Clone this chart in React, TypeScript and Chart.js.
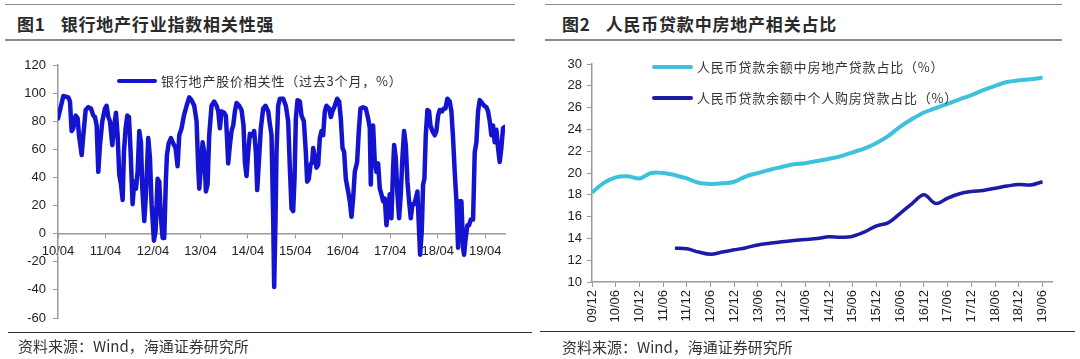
import React, { useEffect, useRef } from "react";
import { Chart, registerables } from "chart.js";

Chart.register(...registerables);

// ---------- Figure 1: bank vs real-estate correlation (months since 2010-04) ----------
const corrMonths = [
  0.0, 1.35, 2.61, 3.03, 3.45, 3.87, 4.46, 4.97, 5.31, 5.98, 6.4, 6.99, 7.66, 8.34, 8.93, 9.35, 9.77, 10.19, 10.61, 11.2,
  11.87, 12.29, 12.72, 13.14, 13.73, 14.23, 14.65, 15.07, 15.49, 15.92, 16.34, 16.67, 17.09, 17.52, 17.94, 18.36, 18.86,
  19.28, 19.71, 20.13, 20.55, 20.97, 21.31, 21.81, 22.23, 22.82, 23.24, 23.66, 24.25, 24.67, 25.18, 25.6, 26.02, 26.44,
  26.86, 27.28, 27.54, 27.96, 28.55, 29.14, 29.73, 30.23, 30.65, 31.24, 31.83, 32.51, 33.18, 33.77, 34.44, 35.03, 35.45,
  35.71, 36.13, 36.55, 36.97, 37.39, 37.81, 38.23, 38.82, 39.49, 40.08, 40.51, 40.93, 41.35, 42.02, 42.44, 42.78, 43.03,
  43.45, 43.87, 44.29, 44.72, 45.14, 45.81, 46.4, 46.9, 47.24, 47.66, 48.08, 48.5, 49.09, 49.6, 50.02, 50.36, 50.78,
  51.28, 51.87, 52.46, 53.14, 53.56, 53.98, 54.4, 54.65, 54.99, 55.24, 55.66, 56.08, 56.93, 57.6, 58.19, 58.61, 59.03,
  59.45, 59.79, 60.13, 60.55, 61.14, 61.56, 62.15, 62.65, 62.99, 63.41, 63.83, 64.25, 64.5, 64.93, 65.35, 65.77, 66.19,
  66.61, 67.03, 67.45, 67.87, 68.55, 68.97, 69.39, 69.98, 70.57, 71.07, 71.49, 71.92, 72.34, 72.76, 73.35, 73.77, 74.19,
  74.61, 75.03, 75.62, 76.04, 76.46, 77.14, 77.81, 78.4, 78.82, 79.07, 79.33, 79.66, 80.08, 80.51, 80.93, 81.35, 81.77,
  82.19, 82.61, 83.03, 83.45, 83.87, 84.29, 84.72, 84.97, 85.39, 85.81, 86.23, 86.65, 87.07, 87.49, 87.92, 88.34, 88.76,
  89.18, 89.6, 90.02, 90.44, 90.86, 91.28, 91.54, 91.96, 92.29, 92.63, 92.97, 93.39, 93.81, 94.15, 94.65, 95.24, 95.66,
  96.08, 96.51, 97.09, 97.52, 97.94, 98.44, 99.03, 99.45, 99.87, 100.29, 100.72, 101.14, 101.56, 101.98, 102.4, 102.65,
  103.07, 103.49, 103.92, 104.34, 104.93, 105.35, 105.77, 106.19, 106.61, 107.2, 107.71, 108.29, 108.72, 109.14, 109.56,
  109.98, 110.4, 110.82, 111.24, 111.66, 112.08, 112.5, 112.93,
];
const corrValues = [
  82, 98, 97, 94, 73, 75, 84, 82, 70, 56, 70, 88, 90, 89, 84, 83, 77, 44, 63, 80,
  89, 91, 83, 80, 63, 77, 86, 70, 42, 35, 24, 58, 75, 84, 83, 58, 21,
  37, 32, 44, 73, 65, 32, 9, 28, 68, 54, 21, -5, 2, 39, 37, 11, -3,
  -3, 39, 56, 64, 68, 64, 61, 48, 70, 75, 84, 91, 97, 95, 91, 80, 47,
  32, 47, 65, 58, 30, 35, 70, 91, 94, 91, 87, 75, 87, 86, 84, 65, 50,
  63, 73, 77, 87, 93, 91, 88, 77, 51, 41, 58, 71, 70, 73, 58, 31, 51,
  75, 89, 91, 87, 78, 70, 11, -38, 11, 58, 91, 96, 96, 91, 80, 47, 18,
  16, 39, 82, 95, 94, 84, 80, 58, 37, 39, 49, 51, 61, 54, 47, 49, 68,
  73, 70, 87, 91, 89, 83, 87, 91, 96, 94, 82, 61, 58, 39, 30, 23, 12,
  25, 44, 51, 73, 89, 90, 89, 82, 75, 35, 70, 77, 51, 44, 50, 32, 28,
  23, 25, 6, 16, 28, 11, 47, 63, 54, 28, 11, 28, 54, 73, 63, 37, 23,
  11, 21, 21, 25, 30, 2, -15, 2, 35, 39, 70, 88, 87, 77, 73, 70, 73,
  84, 88, 87, 89, 89, 96, 94, 87, 68, 44, 23, -10, 23, 23, -10, -15,
  -3, 6, 6, 10, 10, 58, 65, 87, 95, 93, 91, 90, 87, 80, 70,
  77, 65, 74, 61, 51, 61, 75, 76,
];
const corrTickMonths = [0, 12, 24, 36, 48, 60, 72, 84, 96, 108];
const corrTickLabels = ["10/04", "11/04", "12/04", "13/04", "14/04", "15/04", "16/04", "17/04", "18/04", "19/04"];
const corrLegend = "银行地产股价相关性（过去3个月，%）";

// ---------- Figure 2: RMB loan shares (quarterly) ----------
const loanQuarters = [
  "09/12", "10/03", "10/06", "10/09", "10/12", "11/03", "11/06", "11/09", "11/12", "12/03",
  "12/06", "12/09", "12/12", "13/03", "13/06", "13/09", "13/12", "14/03", "14/06", "14/09",
  "14/12", "15/03", "15/06", "15/09", "15/12", "16/03", "16/06", "16/09", "16/12", "17/03",
  "17/06", "17/09", "17/12", "18/03", "18/06", "18/09", "18/12", "19/03", "19/06",
];
const realEstateShare = [
  18.2, 19.1, 19.6, 19.7, 19.5, 20.0, 20.0, 19.8, 19.5, 19.1,
  19.0, 19.05, 19.2, 19.7, 20.0, 20.3, 20.55, 20.8, 20.9, 21.1,
  21.3, 21.55, 21.9, 22.25, 22.75, 23.4, 24.25, 24.95, 25.55, 25.95,
  26.35, 26.75, 27.15, 27.6, 28.0, 28.35, 28.5, 28.6, 28.75,
];
const mortgageShare = [
  null, null, null, null, null, null, null, 13.1, 13.05, 12.75,
  12.55, 12.75, 12.95, 13.15, 13.4, 13.55, 13.7, 13.8, 13.9, 14.0,
  14.15, 14.1, 14.2, 14.6, 15.15, 15.45, 16.3, 17.2, 18.0, 17.2,
  17.7, 18.1, 18.3, 18.4, 18.6, 18.8, 18.95, 18.9, 19.2,
];
const loanLegend1 = "人民币贷款余额中房地产贷款占比（%）";
const loanLegend2 = "人民币贷款余额中个人购房贷款占比（%）";

const title1Num = "图1";
const title1 = "银行地产行业指数相关性强";
const title2Num = "图2";
const title2 = "人民币贷款中房地产相关占比";
const sourceText = "资料来源：Wind，海通证券研究所";

const BLUE = "#1414d0";
const LIGHT_BLUE = "#3ec2db";
const DARK_BLUE = "#1b1ba6";
const AXIS = "#9a9a9a";
const TEXT = "#222";
const NUM_FONT = { family: "'Liberation Sans', Arial, sans-serif", size: 13 };
const CJK = "'Noto Sans CJK SC', sans-serif";

function CorrChart() {
  const ref = useRef<HTMLCanvasElement>(null);
  useEffect(() => {
    const chart = new Chart(ref.current!, {
      type: "line",
      data: {
        datasets: [
          {
            data: corrMonths.map((m, i) => ({ x: m, y: corrValues[i] })),
            borderColor: BLUE,
            borderWidth: 4.5,
            pointRadius: 0,
            tension: 0,
            borderJoinStyle: "round",
            borderCapStyle: "round",
          },
        ],
      },
      options: {
        responsive: false,
        animation: false,
        layout: { padding: { left: 0, right: 25, top: 20, bottom: 17 } },
        plugins: { legend: { display: false }, tooltip: { enabled: false } },
        scales: {
          x: {
            type: "linear",
            position: { y: 0 } as any,
            min: 0,
            max: 113,
            afterBuildTicks: (s: any) => {
              s.ticks = corrTickMonths.map((v) => ({ value: v }));
            },
            ticks: {
              autoSkip: false,
              maxRotation: 0,
              minRotation: 0,
              padding: 6,
              color: TEXT,
              font: NUM_FONT,
              callback: (v: any) => {
                const idx = corrTickMonths.indexOf(Number(v));
                return idx >= 0 ? corrTickLabels[idx] : "";
              },
            },
            grid: { display: true, drawOnChartArea: false, drawTicks: true, tickLength: 4, color: AXIS },
            border: { display: true, color: AXIS, width: 1.5 },
          },
          y: {
            type: "linear",
            min: -60,
            max: 120,
            afterFit: (s: any) => {
              s.width = 58;
            },
            ticks: { stepSize: 20, padding: 7, color: TEXT, font: NUM_FONT },
            grid: { display: true, drawOnChartArea: false, drawTicks: true, tickLength: 5, color: AXIS },
            border: { display: true, color: AXIS, width: 1.5 },
          },
        },
      },
    });
    return () => chart.destroy();
  }, []);
  return (
    <canvas ref={ref} width={530} height={290} style={{ position: "absolute", left: 0, top: 45 }} />
  );
}

function LoanChart() {
  const ref = useRef<HTMLCanvasElement>(null);
  useEffect(() => {
    const chart = new Chart(ref.current!, {
      type: "line",
      data: {
        datasets: [
          {
            data: realEstateShare.map((v, i) => ({ x: i, y: v })),
            borderColor: LIGHT_BLUE,
            borderWidth: 4,
            pointRadius: 0,
            tension: 0.35,
          },
          {
            data: mortgageShare
              .map((v, i) => ({ x: i, y: v }))
              .filter((p) => p.y !== null),
            borderColor: DARK_BLUE,
            borderWidth: 3.5,
            pointRadius: 0,
            tension: 0.35,
          },
        ],
      },
      options: {
        responsive: false,
        animation: false,
        layout: { padding: { left: 0, right: 28, top: 19, bottom: 0 } },
        plugins: { legend: { display: false }, tooltip: { enabled: false } },
        scales: {
          x: {
            type: "linear",
            min: 0,
            max: 38.8,
            afterBuildTicks: (s: any) => {
              s.ticks = loanQuarters
                .map((_, i) => i)
                .filter((i) => i % 2 === 0)
                .map((i) => ({ value: i }));
            },
            afterFit: (s: any) => {
              s.height = 53;
            },
            ticks: {
              autoSkip: false,
              minRotation: 90,
              maxRotation: 90,
              padding: 3,
              color: TEXT,
              font: NUM_FONT,
              callback: (v: any) => loanQuarters[Number(v)] ?? "",
            },
            grid: { display: true, drawOnChartArea: false, drawTicks: true, tickLength: 5, color: AXIS },
            border: { display: true, color: AXIS, width: 1.5 },
          },
          y: {
            type: "linear",
            min: 10,
            max: 30,
            afterFit: (s: any) => {
              s.width = 52;
            },
            ticks: { stepSize: 2, padding: 5, color: TEXT, font: NUM_FONT },
            grid: { display: true, drawOnChartArea: false, drawTicks: true, tickLength: 5, color: AXIS },
            border: { display: true, color: AXIS, width: 1.5 },
          },
        },
      },
    });
    return () => chart.destroy();
  }, []);
  return (
    <canvas ref={ref} width={540} height={290} style={{ position: "absolute", left: 540, top: 45 }} />
  );
}

const abs = (s: React.CSSProperties): React.CSSProperties => ({ position: "absolute", ...s });

function HLine({ x1, x2, y, color, w }: { x1: number; x2: number; y: number; color: string; w: number }) {
  return <div style={abs({ left: x1, top: y - w / 2, width: x2 - x1, height: w, background: color })} />;
}

function Title({ x, num, text }: { x: number; num: string; text: string }) {
  return (
    <div
      style={abs({
        left: x,
        top: 12,
        height: 24,
        lineHeight: "24px",
        fontFamily: CJK,
        fontWeight: 700,
        fontSize: 17,
        color: "#2a2a2a",
        whiteSpace: "nowrap",
        letterSpacing: "0.8px",
      })}
    >
      <span>{num}</span>
      <span style={{ marginLeft: 15 }}>{text}</span>
    </div>
  );
}

function LegendItem({ x, y, color, text, w }: { x: number; y: number; color: string; text: string; w: number }) {
  return (
    <>
      <div style={abs({ left: x, top: y - 2, width: w, height: 4, background: color, borderRadius: 2 })} />
      <div
        style={abs({
          left: x + w + 4,
          top: y - 10,
          height: 20,
          lineHeight: "20px",
          fontFamily: CJK,
          fontSize: 13,
          letterSpacing: "0.8px",
          color: "#333",
          whiteSpace: "nowrap",
        })}
      >
        {text}
      </div>
    </>
  );
}

function Source({ x, y }: { x: number; y: number }) {
  return (
    <div
      style={abs({
        left: x,
        top: y - 11,
        height: 22,
        lineHeight: "22px",
        fontFamily: CJK,
        fontSize: 15,
        color: "#333",
        whiteSpace: "nowrap",
      })}
    >
      {sourceText}
    </div>
  );
}

export default function App() {
  return (
    <div
      style={abs({ left: 0, top: 0, width: 1080, height: 359, background: "#fff", overflow: "hidden" })}
    >
      {/* left panel frame */}
      <HLine x1={5} x2={515} y={4.5} color="#8a8a8a" w={1.5} />
      <Title x={17} num={title1Num} text={title1} />
      <HLine x1={5} x2={515} y={40} color="#8a8a8a" w={1.5} />
      <CorrChart />
      <LegendItem x={117} y={81} color={BLUE} text={corrLegend} w={40} />
      <HLine x1={8} x2={532} y={332} color="#333" w={1} />
      <Source x={18} y={346} />

      {/* right panel frame */}
      <HLine x1={545} x2={1062} y={4.5} color="#8a8a8a" w={1.5} />
      <Title x={562} num={title2Num} text={title2} />
      <HLine x1={545} x2={1062} y={40} color="#8a8a8a" w={1.5} />
      <LoanChart />
      <LegendItem x={652} y={67} color={LIGHT_BLUE} text={loanLegend1} w={41} />
      <LegendItem x={652} y={98} color={DARK_BLUE} text={loanLegend2} w={41} />
      <HLine x1={540} x2={1075} y={331} color="#333" w={1} />
      <Source x={562} y={347} />
    </div>
  );
}
